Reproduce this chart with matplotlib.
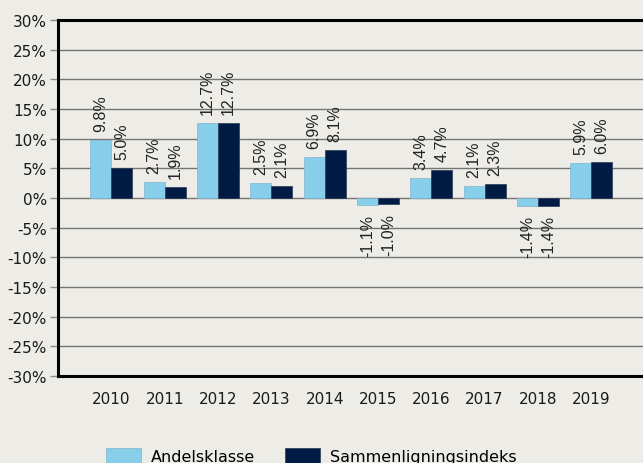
import matplotlib
matplotlib.use("Agg")
import matplotlib.pyplot as plt
import numpy as np

years = ["2010", "2011", "2012", "2013", "2014", "2015", "2016", "2017", "2018", "2019"]
andelsklasse = [9.8, 2.7, 12.7, 2.5, 6.9, -1.1, 3.4, 2.1, -1.4, 5.9]
sammenligning = [5.0, 1.9, 12.7, 2.1, 8.1, -1.0, 4.7, 2.3, -1.4, 6.0]
series_names = ["Andelsklasse", "Sammenligningsindeks"]
yticks = list(range(-30, 31, 5))

bg = "#edece7"
c_light = "#87ceeb"
c_dark = "#001b44"

fig = plt.figure(figsize=(6.43, 4.64), dpi=100, facecolor=bg)
ax = fig.add_axes([58 / 643, 1 - 377 / 464, 1 - 58 / 643, (377 - 21) / 464])
ax.set_facecolor(bg)

x = np.arange(len(years))
w = 0.395
b1 = ax.bar(x - w / 2, andelsklasse, w, color=c_light, edgecolor="#7fb4cc", linewidth=0.5,
            label=series_names[0], zorder=3)
b2 = ax.bar(x + w / 2, sammenligning, w, color=c_dark, edgecolor="#2a3a55", linewidth=0.5,
            label=series_names[1], zorder=3)

for bars, vals in ((b1, andelsklasse), (b2, sammenligning)):
    for rect, v in zip(bars, vals):
        cx = rect.get_x() + rect.get_width() / 2
        txt = f"{v:.1f}%"
        if v >= 0:
            ax.annotate(txt, (cx, v), xytext=(0, 6.5), textcoords="offset points",
                        rotation=90, ha="center", va="bottom", fontsize=11.5,
                        family="Liberation Sans", color="#222222", zorder=4)
        else:
            ax.annotate(txt, (cx, v), xytext=(0, -6.5), textcoords="offset points",
                        rotation=90, ha="center", va="top", fontsize=11.5,
                        family="Liberation Sans", color="#222222", zorder=4)

ax.set_ylim(-30, 30)
ax.set_xlim(-1.0, 9.97)
ax.set_yticks(yticks)
ax.set_yticklabels([f"{t}%" for t in yticks], fontsize=11, color="#1a1a1a")
ax.set_xticks(x)
ax.set_xticklabels(years, fontsize=11, color="#1a1a1a")
ax.tick_params(axis="x", length=0, pad=11)
ax.tick_params(axis="y", length=6, width=1, color="#888888", pad=2)

ax.grid(axis="y", color="#747474", linewidth=1, zorder=1)
ax.set_axisbelow(True)
for s in ("left", "top", "bottom"):
    ax.spines[s].set_linewidth(2.2)
    ax.spines[s].set_color("black")
    ax.spines[s].set_zorder(5)
ax.spines["right"].set_visible(False)

fig.legend(handles=[b1, b2], labels=series_names, loc="center", ncol=2,
           bbox_to_anchor=(311 / 643, 1 - 457 / 464), fontsize=11.5, frameon=False,
           handlelength=2.2, handleheight=1.2, handletextpad=0.6, columnspacing=1.9)

fig.savefig("out.png", dpi=100, facecolor=bg)
